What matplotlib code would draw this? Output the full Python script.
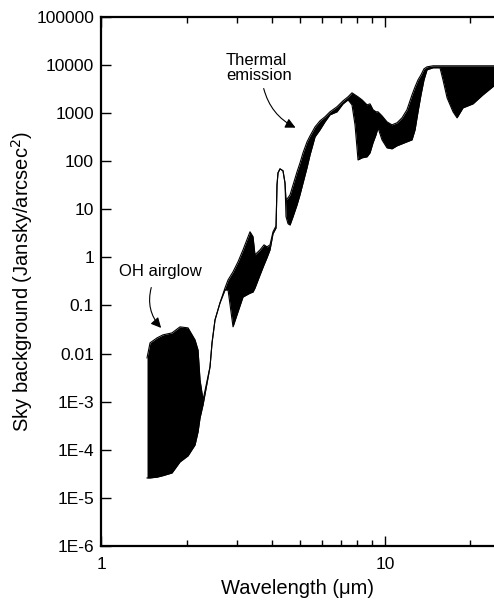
import matplotlib
matplotlib.use("Agg")
import matplotlib.pyplot as plt
from matplotlib.ticker import FixedLocator, FixedFormatter, NullFormatter

plt.rcParams['font.family'] = ['Liberation Sans', 'DejaVu Sans']

# Wavelength (micron) and upper / lower envelope of sky background (Jy/arcsec^2)
wavelength = [1.452, 1.488, 1.575, 1.653, 1.778, 1.897, 2.025, 2.143, 2.196, 2.232,
              2.287, 2.420, 2.460, 2.520, 2.624, 2.733, 2.801, 2.916, 3.037, 3.162,
              3.346, 3.429, 3.485, 3.630, 3.750, 3.841, 3.936, 4.033, 4.133, 4.166,
              4.200, 4.268, 4.373, 4.445, 4.481, 4.555, 4.630, 4.744, 4.900, 5.020,
              5.144, 5.314, 5.446, 5.671, 5.904, 6.147, 6.401, 6.776, 7.114, 7.409,
              7.651, 7.841, 8.035, 8.299, 8.643, 8.857, 9.073, 9.296, 9.449, 9.759,
              10.16, 10.58, 11.02, 11.48, 11.95, 12.45, 12.76, 13.07, 13.39, 13.72,
              14.06, 14.76, 15.62, 16.00, 16.54, 17.36, 17.93, 18.82, 20.41, 22.13,
              24.20]
upper = [0.00814, 0.0167, 0.0212, 0.0245, 0.0269, 0.0359, 0.0342, 0.0193, 0.0119, 0.00284,
         0.00109, 0.0053, 0.0167, 0.050, 0.113, 0.232, 0.34, 0.50, 0.81, 1.43,
         3.4, 2.7, 1.13, 1.43, 1.82, 1.65, 1.82, 3.4, 4.5, 32,
         57, 69, 63, 35, 15.7, 17.3, 19.9, 32, 60, 92,
         149, 252, 336, 516, 689, 834, 1060, 1350, 1790, 2170,
         2630, 2390, 2170, 1880, 1480, 1550, 1170, 1060, 1060, 875,
         656, 568, 626, 795, 1170, 2390, 3510, 4900, 6220, 8300,
         9120, 9580, 9580, 9580, 9580, 9580, 9580, 9580, 9580, 9580,
         9580]
lower = [2.6e-5, 2.6e-5, 2.7e-5, 2.9e-5, 3.3e-5, 5.6e-5, 7.5e-5, 1.26e-4, 2.35e-4, 4.6e-4,
         8.6e-4, 0.0053, 0.0167, 0.050, 0.113, 0.211, 0.21, 0.036, 0.074, 0.15,
         0.18, 0.19, 0.23, 0.43, 0.70, 0.98, 1.43, 3.1, 4.1, 32,
         57, 69, 63, 35, 7.0, 5.0, 4.7, 7.0, 12.3, 20,
         35, 73, 135, 320, 448, 656, 918, 1060, 1550, 1880,
         1480, 568, 106, 117, 123, 149, 240, 352, 492, 277,
         189, 180, 208, 229, 252, 277, 448, 1060, 2390, 4900,
         7910, 8710, 8710, 4900, 2070, 1060, 795, 1280, 1550, 2390,
         3680]

y_ticks = [1e5, 1e4, 1e3, 1e2, 1e1, 1, 0.1, 0.01, 1e-3, 1e-4, 1e-5, 1e-6]
y_tick_labels = ["100000", "10000", "1000", "100", "10", "1", "0.1", "0.01",
                 "1E-3", "1E-4", "1E-5", "1E-6"]
x_major = [1, 10]
x_major_labels = ["1", "10"]
x_minor = [2, 3, 4, 5, 6, 7, 8, 9, 20]

fig = plt.figure(figsize=(4.94, 6.04), dpi=100)
ax = fig.add_axes([0.2045, 0.096, 0.7955, 0.8762])

ax.fill_between(wavelength, lower, upper, color='black', lw=0)
ax.plot(wavelength, upper, color='black', lw=0.8)
ax.plot(wavelength, lower, color='black', lw=0.8)

ax.set_xscale('log')
ax.set_yscale('log')
ax.set_xlim(1, 24.2)
ax.set_ylim(1e-6, 1e5)

ax.yaxis.set_major_locator(FixedLocator(y_ticks))
ax.yaxis.set_major_formatter(FixedFormatter(y_tick_labels))
ax.yaxis.set_minor_locator(FixedLocator([]))
ax.xaxis.set_major_locator(FixedLocator(x_major))
ax.xaxis.set_major_formatter(FixedFormatter(x_major_labels))
ax.xaxis.set_minor_locator(FixedLocator(x_minor))
ax.xaxis.set_minor_formatter(NullFormatter())

for s in ['left', 'bottom', 'top']:
    ax.spines[s].set_linewidth(1.6)
ax.spines['right'].set_visible(False)

ax.tick_params(axis='y', which='major', direction='in', length=7, width=1.0,
               labelsize=12.5, pad=5, right=False)
ax.tick_params(axis='x', which='major', direction='in', length=7, width=1.0,
               labelsize=12.5, pad=8, top=True)
ax.tick_params(axis='x', which='minor', direction='in', length=4, width=1.0, top=True)

ax.set_xlabel('Wavelength (\u03bcm)', fontsize=14.5, labelpad=5)
ax.set_ylabel('Sky background (Jansky/arcsec$^2$)', fontsize=14.5, labelpad=1)

ax.text(1.613, 0.52, 'OH airglow', fontsize=12, ha='center', va='center')
ax.annotate('', xy=(1.653, 0.031), xytext=(1.512, 0.268),
            arrowprops=dict(arrowstyle='-|>,head_length=0.6,head_width=0.3',
                            connectionstyle='arc3,rad=0.3', color='black', lw=0.8))

ax.text(2.755, 8700, 'Thermal\nemission', fontsize=12, ha='left', va='center',
        linespacing=0.95)
ax.annotate('', xy=(4.94, 469), xytext=(3.72, 3680),
            arrowprops=dict(arrowstyle='-|>,head_length=0.6,head_width=0.3',
                            connectionstyle='arc3,rad=0.25', color='black', lw=0.8))

fig.savefig('out.png', dpi=100)
